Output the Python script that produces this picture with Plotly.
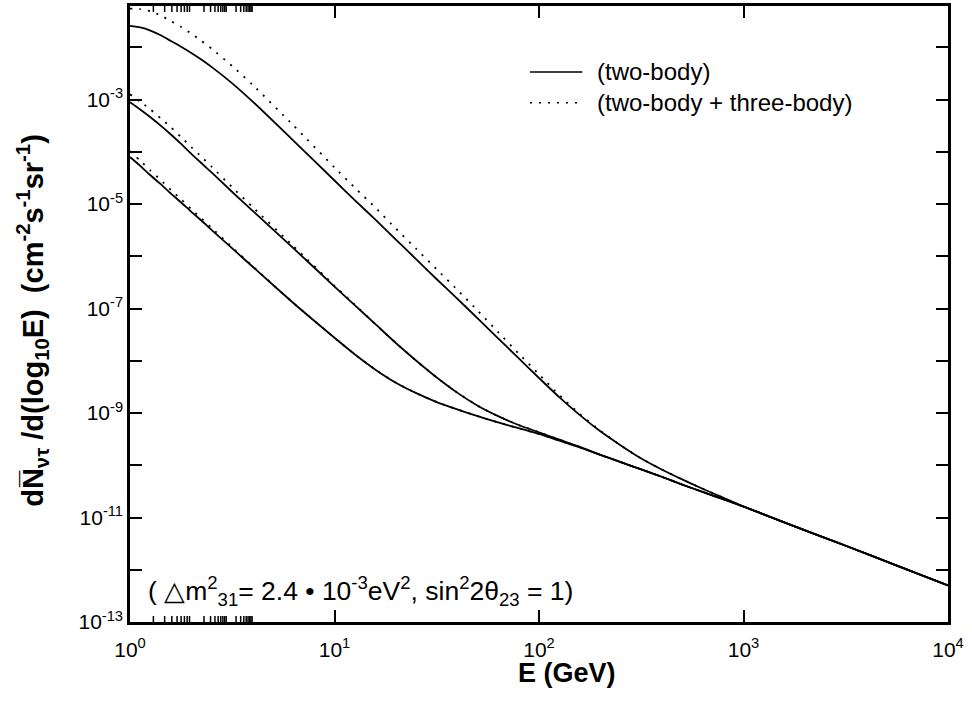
import math
import plotly.graph_objects as go

# Energy grid (GeV)
energy = [1.0, 1.122, 1.259, 1.413, 1.585, 1.778, 1.995, 2.239, 2.512, 3.162,
          3.981, 6.310, 10.0, 12.59, 15.85, 19.95, 25.12, 31.62, 39.81, 50.12,
          63.10, 79.43, 100.0, 125.9, 158.5, 199.5, 251.2, 316.2, 398.1, 501.2,
          631.0, 794.3, 1000.0, 1778.0, 3162.0, 5623.0, 10000.0]

# log10 of dN/d(log10 E) [cm^-2 s^-1 sr^-1], two-body decays only
log_two_body_upper = [-1.59, -1.62, -1.68, -1.77, -1.88, -1.99, -2.11, -2.24, -2.38, -2.69,
                      -3.04, -3.79, -4.55, -4.93, -5.30, -5.68, -6.06, -6.44, -6.81, -7.19,
                      -7.57, -7.95, -8.33, -8.70, -9.04, -9.35, -9.62, -9.87, -10.08, -10.27,
                      -10.45, -10.62, -10.79, -11.17, -11.54, -11.92, -12.30]
log_two_body_middle = [-3.05, -3.19, -3.34, -3.50, -3.67, -3.85, -4.04, -4.22, -4.40, -4.77,
                       -5.13, -5.85, -6.58, -6.94, -7.30, -7.66, -8.00, -8.32, -8.61, -8.86,
                       -9.06, -9.23, -9.37, -9.51, -9.65, -9.80, -9.94, -10.08, -10.22, -10.37,
                       -10.51, -10.65, -10.79, -11.17, -11.54, -11.92, -12.30]
log_two_body_lower = [-4.10, -4.27, -4.45, -4.62, -4.80, -4.97, -5.15, -5.32, -5.50, -5.85,
                      -6.20, -6.90, -7.56, -7.88, -8.17, -8.42, -8.62, -8.79, -8.93, -9.06,
                      -9.18, -9.29, -9.40, -9.53, -9.66, -9.80, -9.94, -10.08, -10.22, -10.37,
                      -10.51, -10.65, -10.79, -11.17, -11.54, -11.92, -12.30]

# two-body + three-body decays
log_total_upper = [-1.26, -1.27, -1.31, -1.39, -1.50, -1.61, -1.74, -1.88, -2.03, -2.36,
                   -2.72, -3.50, -4.30, -4.69, -5.07, -5.47, -5.86, -6.25, -6.64, -7.04,
                   -7.45, -7.86, -8.26, -8.66, -9.02, -9.34, -9.62, -9.87, -10.08, -10.27,
                   -10.45, -10.62, -10.79, -11.17, -11.54, -11.92, -12.30]
log_total_middle = [-2.90, -3.04, -3.19, -3.36, -3.53, -3.72, -3.91, -4.10, -4.29, -4.68,
                    -5.06, -5.81, -6.56, -6.93, -7.30, -7.66, -8.00, -8.32, -8.61, -8.86,
                    -9.06, -9.23, -9.37, -9.51, -9.65, -9.80, -9.94, -10.08, -10.22, -10.37,
                    -10.51, -10.65, -10.79, -11.17, -11.54, -11.92, -12.30]
log_total_lower = [-3.99, -4.17, -4.36, -4.54, -4.73, -4.91, -5.10, -5.28, -5.46, -5.83,
                   -6.19, -6.90, -7.56, -7.88, -8.17, -8.42, -8.62, -8.79, -8.93, -9.06,
                   -9.18, -9.29, -9.40, -9.53, -9.66, -9.80, -9.94, -10.08, -10.22, -10.37,
                   -10.51, -10.65, -10.79, -11.17, -11.54, -11.92, -12.30]

x_exponents = [0, 1, 2, 3, 4]
y_exponents = list(range(-13, -1))

FONT = "Arial, Liberation Sans, sans-serif"
DOTS = "2px,7px"
X_RANGE = [0, 4]
Y_RANGE = [-13, -1.21]
WIDTH, HEIGHT = 972, 728
MARGIN = dict(l=130, r=24, t=3, b=106)
MINOR_LEN = 6  # px


def flux(logs):
    return [10.0 ** v for v in logs]


fig = go.Figure()
for logs in (log_two_body_upper, log_two_body_middle, log_two_body_lower):
    fig.add_trace(go.Scatter(x=energy, y=flux(logs), mode="lines", showlegend=False,
                             line=dict(color="black", width=1.8, shape="spline", smoothing=0.5)))
for logs in (log_total_upper, log_total_middle, log_total_lower):
    fig.add_trace(go.Scatter(x=energy, y=flux(logs), mode="lines", showlegend=False,
                             line=dict(color="black", width=1.8, dash=DOTS, shape="spline", smoothing=0.5)))

# sub-decade ticks (2..9 of every decade) on all four frame sides
plot_w = WIDTH - MARGIN["l"] - MARGIN["r"]
plot_h = HEIGHT - MARGIN["t"] - MARGIN["b"]
fx = MINOR_LEN / plot_w
fy = MINOR_LEN / plot_h
tick_line = dict(color="black", width=1.5)
for k in x_exponents[:-1]:
    for m in range(2, 10):
        lx = math.log10(m * 10.0 ** k)
        for y0, y1 in ((0, fy), (1, 1 - fy)):
            fig.add_shape(type="line", xref="x", yref="paper", x0=lx, x1=lx, y0=y0, y1=y1,
                          line=tick_line)
for k in y_exponents:
    for m in range(2, 10):
        ly = math.log10(m * 10.0 ** k)
        if ly >= Y_RANGE[1]:
            continue
        for x0, x1 in ((0, fx), (1, 1 - fx)):
            fig.add_shape(type="line", xref="paper", yref="y", x0=x0, x1=x1, y0=ly, y1=ly,
                          line=tick_line)

common = dict(type="log", ticks="inside", tickcolor="black", showgrid=False, zeroline=False,
              showline=True, linewidth=2.5, linecolor="black", mirror="ticks")

fig.update_layout(
    xaxis=dict(
        **common, range=X_RANGE, tickmode="array",
        tickvals=[10 ** k for k in x_exponents],
        ticktext=[f"10<sup>{k}</sup>" for k in x_exponents],
        ticklen=12, tickwidth=2, ticklabelstandoff=7,
        tickfont=dict(family=FONT, size=21, color="black"),
    ),
    yaxis=dict(
        **common, range=Y_RANGE, tickmode="array",
        tickvals=[10.0 ** k for k in y_exponents],
        ticktext=[f"10<sup>{k}</sup>" if k % 2 else "" for k in y_exponents],
        ticklen=12, tickwidth=2,
        tickfont=dict(family=FONT, size=21, color="black"),
    ),
)

# axis titles
fig.add_annotation(xref="paper", yref="paper", x=0.534, y=-0.083, xanchor="center", yanchor="middle",
                   showarrow=False, text="<b>E (GeV)</b>",
                   font=dict(family=FONT, size=27, color="black"))
fig.add_annotation(xref="paper", yref="paper", x=-0.119, y=0.49, xanchor="center", yanchor="middle",
                   textangle=-90, showarrow=False,
                   text="<b>dN\u0305<sub>\u03bd\u03c4</sub> /d(log<sub>10</sub>E)  (cm<sup>-2</sup>s<sup>-1</sup>sr<sup>-1</sup>)</b>",
                   font=dict(family=FONT, size=29, color="black"))

# legend drawn as line samples with labels
legend_items = [("(two-body)", "solid", 0.893), ("(two-body + three-body)", DOTS, 0.843)]
for label, dash, yp in legend_items:
    fig.add_shape(type="line", xref="paper", yref="paper", x0=0.489, x1=0.553, y0=yp, y1=yp,
                  line=dict(color="black", width=1.5, dash=dash))
    fig.add_annotation(xref="paper", yref="paper", x=0.569, y=yp, xanchor="left", yanchor="middle",
                       text=label, showarrow=False, font=dict(family=FONT, size=24, color="black"))

fig.add_annotation(
    xref="paper", yref="paper", x=0.020, y=0.05, xanchor="left", yanchor="middle", showarrow=False,
    text="( \u25b3m<sup>2</sup><sub>31</sub>= 2.4 \u2022 10<sup>-3</sup>eV<sup>2</sup>, sin<sup>2</sup>2\u03b8<sub>23</sub> = 1)",
    font=dict(family=FONT, size=26.5, color="black"),
)

fig.update_layout(
    width=WIDTH, height=HEIGHT,
    margin=MARGIN,
    paper_bgcolor="white", plot_bgcolor="white",
    showlegend=False,
)

fig.write_html("out.html")
